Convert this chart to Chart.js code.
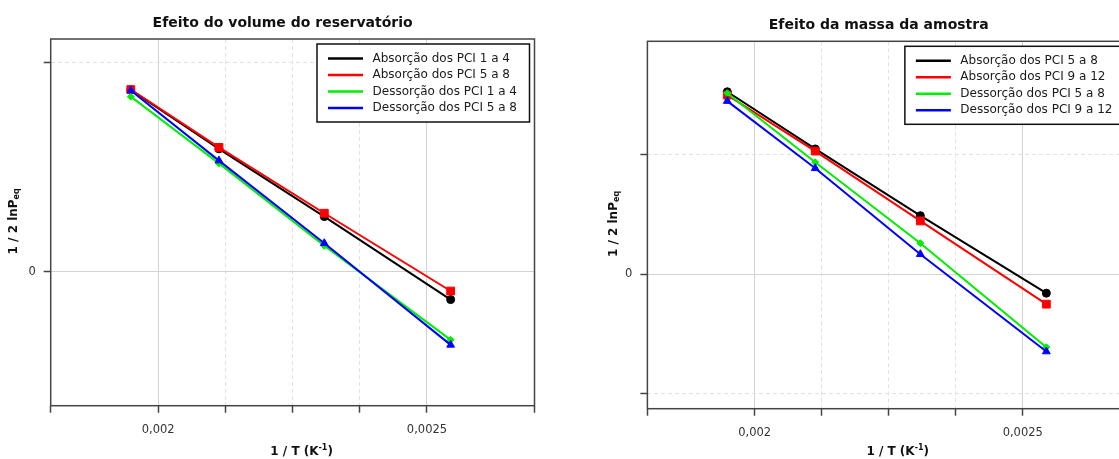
<!DOCTYPE html>
<html lang="pt">
<head>
<meta charset="utf-8">
<title>Efeito do volume do reservatório / Efeito da massa da amostra</title>
<script src="https://cdn.jsdelivr.net/npm/chart.js@4.4.1/dist/chart.umd.min.js"></script>
<style>
  html, body { margin: 0; padding: 0; background: #fff; overflow: hidden; }
  body { width: 1119px; height: 459px; position: relative; }
  .box { position: absolute; top: 0; height: 459px; }
  #boxVolume { left: 0; width: 566px; }
  #boxMassa { left: 566px; width: 594px; }
</style>
</head>
<body>
<div class="box" id="boxVolume"><canvas id="chartVolume" width="566" height="459"></canvas></div>
<div class="box" id="boxMassa"><canvas id="chartMassa" width="594" height="459"></canvas></div>
<script>
// 1/T (K^-1) for the test temperatures 240, 200, 160 and 120 °C
const invT = [0.001949, 0.002113, 0.002309, 0.002544];

// x axis: labelled ticks (the others are minor, dashed)
const xLabelledTicks = [0.002, 0.0025];
const xTickLabels = ["0,002", "0,0025"];
// y axis: only zero carries a label
const yLabelledTicks = [0];
const yTickLabels = ["0"];

// Efeito do volume do reservatório — 1/2 lnPeq
const volLabels = [
  "Absorção dos PCI 1 a 4",
  "Absorção dos PCI 5 a 8",
  "Dessorção dos PCI 1 a 4",
  "Dessorção dos PCI 5 a 8",
];
const volAbs14 = [0.868, 0.587, 0.264, -0.132];
const volAbs58 = [0.870, 0.594, 0.280, -0.091];
const volDes14 = [0.836, 0.518, 0.125, -0.324];
const volDes58 = [0.865, 0.531, 0.137, -0.348];

// Efeito da massa da amostra — 1/2 lnPeq
const massLabels = [
  "Absorção dos PCI 5 a 8",
  "Absorção dos PCI 9 a 12",
  "Dessorção dos PCI 5 a 8",
  "Dessorção dos PCI 9 a 12",
];
const massAbs58 = [0.763, 0.524, 0.245, -0.079];
const massAbs912 = [0.749, 0.515, 0.223, -0.125];
const massDes58 = [0.757, 0.468, 0.130, -0.305];
const massDes912 = [0.724, 0.443, 0.084, -0.323];

const FONT = "'DejaVu Sans', 'Liberation Sans', sans-serif";

const seriesStyle = [
  { color: "#000000", pointStyle: "circle", radius: 4 },
  { color: "#ff0000", pointStyle: "rect", radius: 5.5 },
  { color: "#00ee00", pointStyle: "rectRot", radius: 3.5 },
  { color: "#0000ff", pointStyle: "triangle", radius: 4.5 },
];

function tickIndex(v, list) {
  return list.findIndex((t) => Math.abs(v - t) < 1e-9);
}

// box around the plot area
const plotFrame = {
  id: "plotFrame",
  beforeDatasetsDraw(chart) {
    const { ctx, chartArea: { left, top, width, height } } = chart;
    ctx.save();
    ctx.strokeStyle = "#444";
    ctx.lineWidth = 1.5;
    ctx.strokeRect(left, top, width, height);
    ctx.restore();
  },
};

// legend in a bordered box, top right inside the plot
const boxedLegend = {
  id: "boxedLegend",
  afterDatasetsDraw(chart) {
    const { ctx, chartArea } = chart;
    const sets = chart.data.datasets;
    ctx.save();
    ctx.font = "12px " + FONT;
    const textW = Math.max(...sets.map((d) => ctx.measureText(d.label).width));
    const rowH = 16.5;
    const w = 11 + 35 + 9.5 + textW + 12.5;
    const h = sets.length * rowH + 12;
    const x = chartArea.right - 5 - w;
    const y = chartArea.top + 5;
    ctx.fillStyle = "#fff";
    ctx.fillRect(x, y, w, h);
    ctx.strokeStyle = "#111";
    ctx.lineWidth = 1.5;
    ctx.strokeRect(x, y, w, h);
    sets.forEach((d, i) => {
      const cy = y + 14.5 + i * rowH;
      ctx.strokeStyle = d.borderColor;
      ctx.lineWidth = 2.5;
      ctx.beginPath();
      ctx.moveTo(x + 11, cy);
      ctx.lineTo(x + 46, cy);
      ctx.stroke();
      ctx.fillStyle = "#1a1a1a";
      ctx.textBaseline = "middle";
      ctx.textAlign = "left";
      ctx.fillText(d.label, x + 55.5, cy);
    });
    ctx.restore();
  },
};

// text made of pieces with their own size and baseline shift (sub/superscripts)
function drawScripted(ctx, parts, cx, cy) {
  let total = 0;
  parts.forEach((p) => {
    ctx.font = "bold " + p.size + "px " + FONT;
    p.w = ctx.measureText(p.text).width;
    total += p.w;
  });
  let x = cx - total / 2;
  ctx.textAlign = "left";
  ctx.textBaseline = "middle";
  parts.forEach((p) => {
    ctx.font = "bold " + p.size + "px " + FONT;
    ctx.fillText(p.text, x, cy + p.shift);
    x += p.w;
  });
}

// chart title and both axis titles
const chartTexts = {
  id: "chartTexts",
  afterDraw(chart, args, opts) {
    const { ctx, chartArea: a } = chart;
    const cx = (a.left + a.right) / 2;
    ctx.save();
    ctx.fillStyle = "#111";
    ctx.textAlign = "center";
    ctx.textBaseline = "middle";
    ctx.font = "bold 14px " + FONT;
    ctx.fillText(opts.title, cx - 10, a.top - 16);

    drawScripted(ctx, [
      { text: "1 / T (K", size: 12, shift: 0 },
      { text: "-1", size: 8, shift: -4 },
      { text: ")", size: 12, shift: 0 },
    ], cx + 9, chart.height - 7);

    ctx.translate(opts.yTitleX, (a.top + a.bottom) / 2 - 1);
    ctx.rotate(-Math.PI / 2);
    drawScripted(ctx, [
      { text: "1 / 2 lnP", size: 12, shift: 0 },
      { text: "eq", size: 8, shift: 3 },
    ], 0, 0);
    ctx.restore();
  },
};

function makeChart(canvasId, cfg) {
  const datasets = cfg.series.map((vals, i) => ({
    label: cfg.labels[i],
    data: vals.map((y, k) => ({ x: invT[k], y: y })),
    borderColor: seriesStyle[i].color,
    backgroundColor: seriesStyle[i].color,
    borderWidth: 2,
    pointStyle: seriesStyle[i].pointStyle,
    pointRadius: seriesStyle[i].radius,
    pointBorderWidth: 1,
    tension: 0,
    order: seriesStyle.length - i,
  }));

  return new Chart(document.getElementById(canvasId), {
    type: "line",
    data: { datasets },
    plugins: [plotFrame, boxedLegend, chartTexts],
    options: {
      responsive: false,
      animation: false,
      events: [],
      layout: { padding: { left: 0, top: cfg.padTop, right: cfg.padRight, bottom: 0 } },
      plugins: {
        legend: { display: false },
        tooltip: { enabled: false },
        chartTexts: { title: cfg.title, yTitleX: cfg.yTitleX },
      },
      scales: {
        x: {
          type: "linear",
          min: 0.0018,
          max: 0.0027,
          afterFit: (s) => { s.height = cfg.xAxisHeight; },
          border: {
            display: false,
            dash: (c) => (c.tick && tickIndex(c.tick.value, xLabelledTicks) < 0 ? [4, 3] : []),
          },
          grid: {
            color: (c) => (c.tick && tickIndex(c.tick.value, xLabelledTicks) >= 0 ? "#d3d3d3" : "#e2e2e2"),
            lineWidth: 1,
            tickLength: 7,
            tickColor: "#444",
            tickWidth: 1.5,
            tickBorderDash: [],
          },
          ticks: {
            stepSize: 0.000125,
            autoSkip: false,
            maxRotation: 0,
            padding: 10,
            color: "#333",
            font: { family: FONT, size: 11.5 },
            callback: (v) => {
              const i = tickIndex(v, xLabelledTicks);
              return i >= 0 ? xTickLabels[i] : "";
            },
          },
        },
        y: {
          min: cfg.yMin,
          max: cfg.yMax,
          afterFit: (s) => { s.width = cfg.yAxisWidth; },
          border: {
            display: false,
            dash: (c) => (c.tick && tickIndex(c.tick.value, yLabelledTicks) < 0 ? [4, 3] : []),
          },
          grid: {
            color: (c) => (c.tick && tickIndex(c.tick.value, yLabelledTicks) >= 0 ? "#d3d3d3" : "#e2e2e2"),
            lineWidth: 1,
            tickLength: 7,
            tickColor: "#444",
            tickWidth: 1.5,
            tickBorderDash: [],
          },
          ticks: {
            stepSize: cfg.yStep,
            includeBounds: false,
            padding: 8,
            color: "#333",
            font: { family: FONT, size: 11.5 },
            callback: (v) => {
              const i = tickIndex(v, yLabelledTicks);
              return i >= 0 ? yTickLabels[i] : "";
            },
          },
        },
      },
    },
  });
}

makeChart("chartVolume", {
  title: "Efeito do volume do reservatório",
  labels: volLabels,
  series: [volAbs14, volAbs58, volDes14, volDes58],
  yMin: -0.638,
  yMax: 1.111,
  yStep: 1,
  padTop: 39,
  padRight: 31.5,
  yAxisWidth: 50.7,
  xAxisHeight: 53.3,
  yTitleX: 14,
});

makeChart("chartMassa", {
  title: "Efeito da massa da amostra",
  labels: massLabels,
  series: [massAbs58, massAbs912, massDes58, massDes912],
  yMin: -0.562,
  yMax: 0.974,
  yStep: 0.5,
  padTop: 41.3,
  padRight: 30,
  yAxisWidth: 81.4,
  xAxisHeight: 50.3,
  yTitleX: 47.5,
});
</script>
</body>
</html>
